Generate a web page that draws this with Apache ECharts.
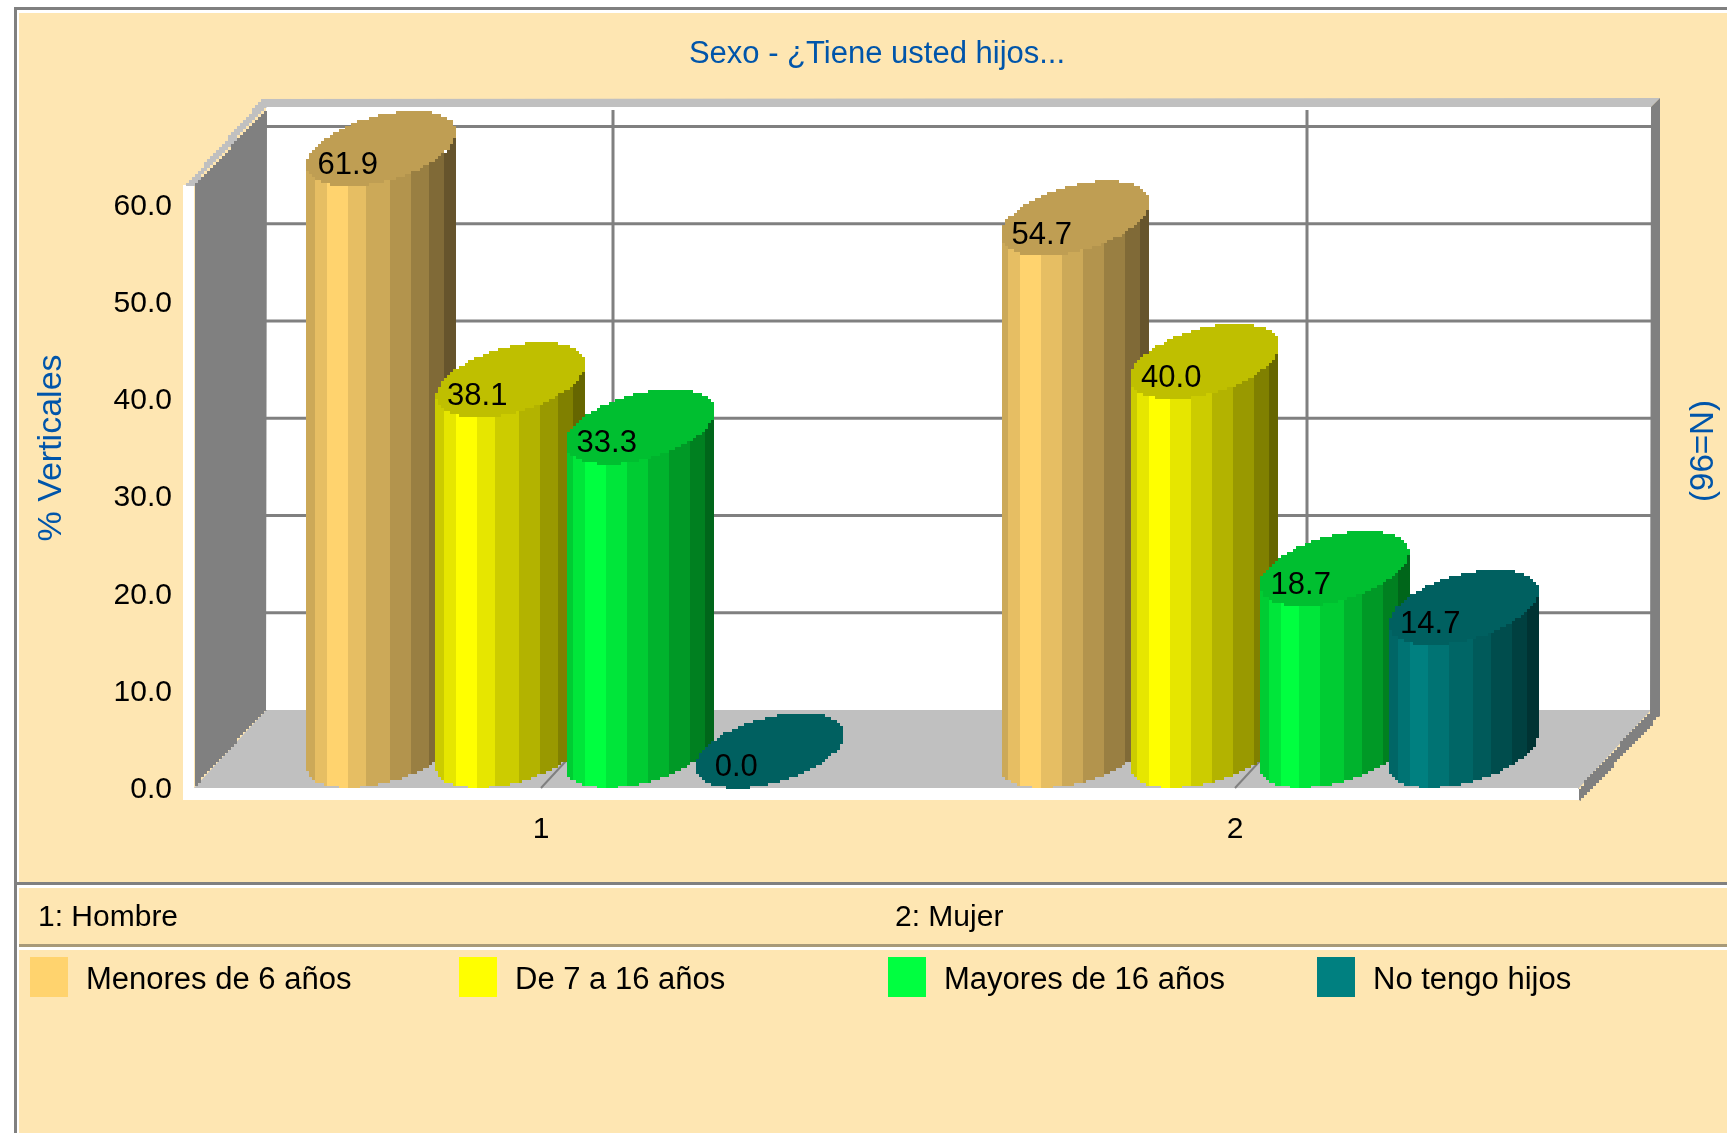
<!DOCTYPE html>
<html>
<head>
<meta charset="utf-8">
<title>Sexo - ¿Tiene usted hijos...</title>
<script src="https://cdn.jsdelivr.net/npm/echarts@6/dist/echarts.min.js"></script>
<style>
  html, body { margin: 0; padding: 0; background: #fff; }
  #chart { width: 1727px; height: 1133px; }
</style>
</head>
<body>
<div id="chart"></div>
<script>
// Values
const categories = ['1', '2'];
const categoryNames = ['1: Hombre', '2: Mujer'];
const seriesNames = ['Menores de 6 años', 'De 7 a 16 años', 'Mayores de 16 años', 'No tengo hijos'];
const menores6 = [61.9, 54.7];
const de7a16 = [38.1, 40.0];
const mayores16 = [33.3, 18.7];
const sinHijos = [0.0, 14.7];
const yTicks = [0, 10, 20, 30, 40, 50, 60];

// Appearance
const palette = ['#FFD36E', '#FFFF00', '#00FF40', '#008080'];
const FONT = '"Liberation Sans", Arial, sans-serif';
const BLUE = '#0055AA';
const GREY = '#808080';
const LIGHT = '#C0C0C0';
const PANEL = '#FEE6B2';
const DEPTH_X = 72;      // oblique offset of the back wall
const DEPTH_Y = 78;
const RIGHT_TRIM = 3;    // box stops a little short of the grid's right edge
const CYL_DX = 72;       // oblique extent of a cylinder cap
const CYL_DY = 75;
const CAP_TILT = 0.47;   // phase between the horizontal and vertical swing of the cap
const SLOT_SHARE = 0.1866; // cylinder width as a share of one category band
const CELL = 3;          // coarse pixel size of the curved and slanted edges
const SHADES = [0.8, 0.9, 1, 0.9, 0.8, 0.7, 0.6, 0.5, 0.4];
const BAND_EDGES = [0, 0.054, 0.134, 0.268, 0.403, 0.557, 0.691, 0.826, 0.926, 1];
const CAP_SHADE = 0.75;

function shade(hex, f) {
  const n = parseInt(hex.slice(1), 16);
  const c = [(n >> 16) & 255, (n >> 8) & 255, n & 255].map(v => Math.round(v * f));
  return 'rgb(' + c.join(',') + ')';
}

// Turns a sampled outline into right-angled steps on a coarse pixel lattice.
function steps(points) {
  const snap = v => Math.round(v / CELL) * CELL;
  const out = [];
  let last = null;
  points.forEach(p => {
    const q = [snap(p[0]), snap(p[1])];
    if (last) {
      if (q[0] === last[0] && q[1] === last[1]) return;
      out.push([q[0], last[1]]);
    }
    out.push(q);
    last = q;
  });
  return out;
}

// Samples a straight edge so that it can be stepped as well.
function edge(a, b) {
  const n = Math.ceil(Math.max(Math.abs(b[0] - a[0]), Math.abs(b[1] - a[1])));
  const pts = [];
  for (let i = 0; i <= n; i++) {
    pts.push([a[0] + (b[0] - a[0]) * i / n, a[1] + (b[1] - a[1]) * i / n]);
  }
  return steps(pts);
}

function poly(points, fill) {
  return { type: 'polygon', silent: true, shape: { points: points }, style: { fill: fill } };
}

function line(x1, y1, x2, y2, width) {
  return {
    type: 'line', silent: true,
    shape: { x1: x1, y1: y1, x2: x2, y2: y2 },
    style: { stroke: GREY, lineWidth: width }
  };
}

// Walls, floor and gridlines of the box, all placed from the axis scales.
function renderBox(params, api) {
  const rect = params.coordSys;
  const left = rect.x, right = rect.x + rect.width - RIGHT_TRIM;
  const bottom = rect.y + rect.height, top = rect.y;
  const dx = DEPTH_X, dy = DEPTH_Y;
  const boxW = right - left;
  const kids = [];

  kids.push({ type: 'rect', silent: true,
    shape: { x: left + dx, y: top - dy, width: boxW, height: rect.height },
    style: { fill: '#fff' } });
  kids.push({ type: 'rect', silent: true,
    shape: { x: left - 11, y: top, width: 11, height: rect.height + 12 },
    style: { fill: '#fff' } });
  kids.push({ type: 'rect', silent: true,
    shape: { x: left - 11, y: bottom, width: boxW + 11, height: 12 },
    style: { fill: '#fff' } });

  yTicks.forEach(v => {
    const y = api.coord([0, v])[1] - dy;
    if (v > 0) kids.push(line(left + dx, y, right + dx, y, 3));
  });

  // floor
  kids.push(poly([[left, bottom], [left + dx, bottom - dy], [right + dx, bottom - dy], [right, bottom]], LIGHT));

  categories.forEach((c, i) => {
    const x = api.coord([i, 0])[0];
    kids.push(line(x + dx, top - dy + 3, x + dx, bottom - dy, 3));
    kids.push(line(x, bottom, x + dx, bottom - dy, 2));
  });

  // side wall
  kids.push(poly(
    edge([left, top], [left + dx, top - dy + 3])
      .concat([[left + dx, bottom - dy]])
      .concat(edge([left + dx, bottom - dy], [left, bottom])),
    GREY));

  // light rim along the top of the box
  kids.push(poly(
    edge([left - 8, top], [left + dx - 3, top - dy - 9])
      .concat([[right + dx + 9, top - dy - 9], [right + dx, top - dy]])
      .concat([[left + dx, top - dy]])
      .concat(edge([left + dx, top - dy], [left, top])),
    LIGHT));

  // grey rim on the right and under the floor edge
  kids.push(poly(
    [[right + dx, top - dy], [right + dx + 9, top - dy - 9], [right + dx + 9, bottom - dy + 6]]
      .concat(edge([right + dx + 9, bottom - dy + 6], [right + 3, bottom + 12]))
      .concat([[right, bottom + 12], [right, bottom]])
      .concat(edge([right, bottom], [right + dx, bottom - dy])),
    GREY));

  return { type: 'group', children: kids };
}

// One oblique cylinder: shaded side bands, then its cap and value.
function renderCylinder(seriesIndex) {
  return function (params, api) {
    const cat = api.value(0);
    const val = api.value(1);
    const base = api.coord([cat, 0]);
    const head = api.coord([cat, val]);
    const w = api.size([1, 0])[0] * SLOT_SHARE;
    const frontX = base[0] + (seriesIndex - 1.5) * w - 1;
    const cx = frontX + CYL_DX / 2 - 0.5;
    const ry = CYL_DY / 2;
    const R = Math.hypot(w, CYL_DX) / 2 + 0.5;
    const color = palette[seriesIndex];
    const point = (t, yFront) => [
      cx + R * Math.cos(t),
      yFront - ry - ry * Math.sin(t + CAP_TILT)
    ];
    const kids = [];
    const height = base[1] - head[1];

    if (height > 0) {
      SHADES.forEach((f, b) => {
        const u = o => Math.PI + Math.acos(1 - 2 * o);
        const from = u(BAND_EDGES[b]), to = u(BAND_EDGES[b + 1]);
        const xa = Math.round((cx - R + 2 * R * BAND_EDGES[b]) / CELL) * CELL;
        const xb = Math.round((cx - R + 2 * R * BAND_EDGES[b + 1]) / CELL) * CELL;
        // inner bands reach a little way under the cap so no seam shows
        const lift = (b === 0 || b === SHADES.length - 1) ? 0 : 2 * CELL;
        const arc = (yFront, up) => {
          const pts = [];
          for (let i = 0; i <= 24; i++) pts.push(point(from + (to - from) * i / 24, yFront));
          return steps(pts).map(p => [Math.min(xb, Math.max(xa, p[0])), Math.min(yFront, p[1]) - up]);
        };
        kids.push(poly(arc(base[1], 0).concat(arc(head[1], lift).reverse()), shade(color, f)));
      });
    }

    const cap = [];
    for (let i = 0; i <= 240; i++) {
      const p = point(Math.PI * 2 * i / 240, head[1]);
      cap.push([p[0], Math.min(head[1], p[1])]);
    }
    kids.push(poly(steps(cap), shade(color, CAP_SHADE)));

    kids.push({
      type: 'text', silent: true,
      style: {
        text: val.toFixed(1),
        x: frontX + 2,
        y: head[1] - 21,
        align: 'center',
        verticalAlign: 'middle',
        fill: '#000',
        font: '31px ' + FONT
      }
    });
    return { type: 'group', children: kids };
  };
}

const valueLists = [menores6, de7a16, mayores16, sinHijos];

const legends = seriesNames.map((name, i) => ({
  data: [name],
  left: 30 + 429 * i,
  top: 957,
  padding: 0,
  itemWidth: 38,
  itemHeight: 40,
  icon: 'rect',
  selectedMode: false,
  formatter: n => '{t|' + n + '}',
  textStyle: {
    color: '#000', fontFamily: FONT, fontSize: 31,
    rich: { t: { color: '#000', fontFamily: FONT, fontSize: 31, padding: [7, 0, 0, 13] } }
  }
}));

function bgRect(x, y, w, h, fill) {
  return { type: 'rect', z: -1, silent: true, shape: { x: x, y: y, width: w, height: h }, style: { fill: fill } };
}

function label(text, x, y, fill, size, rotation) {
  return {
    type: 'text', z: 10, silent: true,
    x: x, y: y, rotation: rotation || 0,
    style: { text: text, fill: fill, font: size + 'px ' + FONT, align: 'center', verticalAlign: 'middle' }
  };
}

const chart = echarts.init(document.getElementById('chart'), null, { renderer: 'canvas' });

chart.setOption({
  animation: false,
  color: palette,
  backgroundColor: '#fff',
  textStyle: { fontFamily: FONT },
  title: {
    text: 'Sexo - ¿Tiene usted hijos...',
    left: 872,
    top: 34,
    textAlign: 'center',
    textStyle: {
      color: BLUE, fontFamily: FONT, fontWeight: 'normal', fontSize: 31,
      textShadowColor: '#fff', textShadowBlur: 0, textShadowOffsetX: 2, textShadowOffsetY: 2
    }
  },
  legend: legends,
  grid: { left: 194, right: 145, top: 185, bottom: 345, containLabel: false },
  xAxis: {
    type: 'category',
    data: categories,
    z: 3,
    axisLine: { show: false },
    axisTick: { alignWithLabel: true, length: 12, lineStyle: { color: GREY, width: 2 } },
    axisLabel: { color: '#000', fontFamily: FONT, fontSize: 30, margin: 27 }
  },
  yAxis: {
    type: 'value',
    min: 0,
    max: 62,
    interval: 10,
    z: 3,
    splitLine: { show: false },
    axisLine: { show: false },
    axisTick: { customValues: yTicks, length: 11, lineStyle: { color: GREY, width: 3 } },
    axisLabel: {
      customValues: yTicks,
      color: '#000', margin: 22,
      formatter: v => '{v|' + v.toFixed(1) + '}',
      rich: { v: { color: '#000', fontFamily: FONT, fontSize: 30, padding: [4, 0, 0, 0] } }
    }
  },
  graphic: [
    bgRect(14, 7, 1713, 3, GREY),
    bgRect(14, 7, 3, 1126, GREY),
    bgRect(19, 13, 1708, 1120, PANEL),
    bgRect(17, 882, 1710, 3, GREY),
    bgRect(19, 885, 1708, 3, '#fff'),
    bgRect(19, 944, 1708, 3, '#A89A78'),
    bgRect(19, 947, 1708, 3, '#fff'),
    label('% Verticales', 52, 448, BLUE, 34, Math.PI / 2),
    label('(96=N)', 1704, 451, BLUE, 33, Math.PI / 2),
    { type: 'text', z: 10, silent: true, x: 38, y: 918,
      style: { text: categoryNames[0], fill: '#000', font: '30px ' + FONT, verticalAlign: 'middle' } },
    { type: 'text', z: 10, silent: true, x: 895, y: 918,
      style: { text: categoryNames[1], fill: '#000', font: '30px ' + FONT, verticalAlign: 'middle' } }
  ],
  series: seriesNames.map((name, i) => ({
    type: 'custom',
    name: name,
    coordinateSystem: 'cartesian2d',
    z: 2 + i,
    clip: false,
    silent: true,
    itemStyle: { color: palette[i] },
    encode: { x: 0, y: 1 },
    data: valueLists[i].map((v, c) => [c, v]),
    renderItem: renderCylinder(i)
  })).concat([{
    type: 'custom',
    name: 'box',
    coordinateSystem: 'cartesian2d',
    z: 1,
    clip: false,
    silent: true,
    data: [[0, 0]],
    renderItem: renderBox
  }])
});
</script>
</body>
</html>
